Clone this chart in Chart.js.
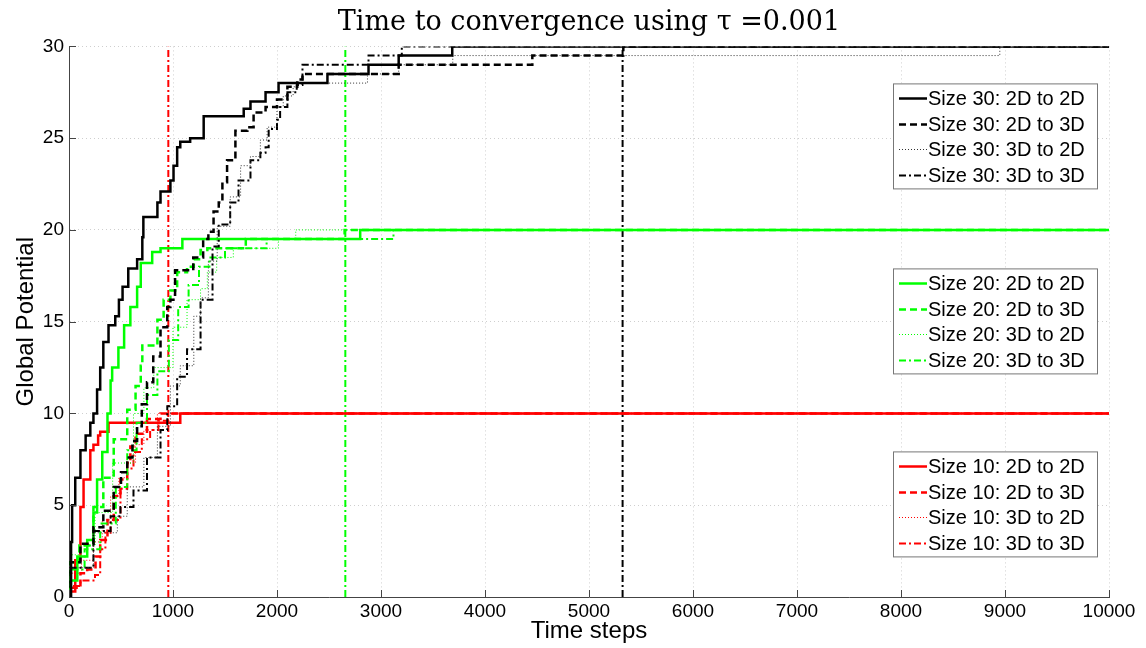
<!DOCTYPE html>
<html>
<head>
<meta charset="utf-8">
<script src="https://cdn.jsdelivr.net/npm/chart.js@4.4.1/dist/chart.umd.min.js"></script>
<style>
html,body{margin:0;padding:0;background:#fff;}
</style>
</head>
<body>
<canvas id="graph" width="1146" height="648"></canvas>
<script>
/******************************** data ********************************/
// each pair is [time step, global potential], value holds until the next step
const s30_2d2d = [[0,0],[20,3],[30,5],[60,6.5],[110,8],[160,8.8],[205,9.5],[235,10],[270,11.3],[300,12.5],[330,13.9],[380,14.8],[445,15.3],[480,16.2],[515,16.9],[570,17.9],[655,18.4],[705,19.6],[715,20.7],[850,21.5],[880,22.1],[975,22.7],[1005,23.5],[1040,24.5],[1070,24.8],[1165,25.0],[1295,26.2],[1680,26.6],[1745,27.0],[1890,27.5],[2015,28.0],[2485,28.5],[2880,29.0],[3170,29.5],[3685,30],[10000,30]];
const s30_2d3d = [[0,0],[15,1.9],[110,2.9],[235,3.8],[330,4.7],[430,6.0],[500,6.8],[560,7.6],[610,8.5],[655,9.3],[700,10.5],[750,11.7],[810,13.1],[880,14.7],[945,15.8],[975,16.2],[1020,17.8],[1195,18.5],[1290,19.5],[1340,19.9],[1390,21.0],[1440,21.5],[1475,22.6],[1520,23.8],[1600,25.4],[1715,25.6],[1775,26.4],[1890,26.7],[2000,27.1],[2100,27.8],[2195,28.2],[2245,28.5],[3170,29.0],[4455,29.5],[5330,30],[10000,30]];
const s30_3d2d = [[0,0],[15,1.6],[235,3.5],[465,4.4],[560,6.0],[720,7.6],[850,9.3],[975,11.5],[1070,12.6],[1200,15.3],[1265,16.3],[1340,18.3],[1425,20.2],[1550,21.8],[1650,23.5],[1745,24.0],[1840,24.9],[1905,25.6],[2000,26.7],[2060,27.3],[2155,27.8],[2200,28.0],[2870,28.5],[3170,29.0],[3690,29.5],[8950,30],[10000,30]];
const s30_3d3d = [[0,0],[15,1.6],[235,3.6],[400,4.4],[495,4.9],[620,5.8],[750,7.6],[880,9.1],[945,10.4],[1040,12.0],[1135,13.5],[1265,16.2],[1380,19.1],[1440,20.3],[1550,21.5],[1630,22.7],[1745,23.8],[1840,24.2],[1890,24.5],[1920,25.5],[2000,26.0],[2030,26.7],[2100,27.5],[2190,27.9],[2245,29.0],[2880,29.5],[3200,30],[10000,30]];

const s20_2d2d = [[0,0],[15,0.9],[80,2.2],[175,3.1],[235,4.6],[270,6.4],[320,7.9],[370,10.0],[400,11.8],[415,12.5],[475,13.6],[530,14.8],[590,15.8],[655,16.9],[690,18.2],[800,18.8],[880,19.0],[1090,19.5],[2800,20],[10000,20]];
const s20_2d3d = [[0,0],[15,1.9],[100,2.8],[235,4.9],[330,6.5],[430,8.6],[560,10.2],[640,11.5],[690,12.6],[705,13.7],[850,15.1],[910,16.2],[975,16.7],[1040,17.7],[1135,18.0],[1200,18.4],[1265,18.9],[1330,19.0],[1700,19.5],[2650,20],[10000,20]];
const s20_3d2d = [[0,0],[15,2.3],[120,2.8],[250,4.6],[420,7.3],[620,10.0],[720,11.4],[815,12.5],[1000,14.7],[1135,16.2],[1265,16.8],[1330,17.7],[1420,18.5],[1580,19.0],[2015,19.5],[2180,20],[10000,20]];
const s20_3d3d = [[0,0],[15,1.5],[150,2.6],[300,4.0],[450,6.0],[560,8.0],[650,9.5],[750,11.0],[850,12.3],[960,14.0],[1050,15.8],[1150,17.0],[1250,18.0],[1350,18.5],[1500,19.0],[1900,19.5],[3120,20],[10000,20]];

const s10_2d2d = [[0,0],[15,0.3],[60,2.0],[110,4.9],[140,6.4],[205,8.0],[235,8.3],[280,8.8],[300,9.0],[380,9.5],[1070,10],[10000,10]];
const s10_2d3d = [[0,0],[15,0.5],[110,1.3],[175,1.5],[255,2.2],[300,3.1],[370,4.2],[430,5.5],[495,6.4],[560,7.3],[590,8.2],[640,8.9],[750,9.7],[880,10],[10000,10]];
const s10_3d2d = [[0,0],[15,1.3],[120,2.0],[235,3.0],[320,4.2],[400,5.5],[480,6.5],[560,7.3],[640,8.3],[720,9.1],[850,10],[10000,10]];
const s10_3d3d = [[0,0],[15,0.6],[110,0.9],[250,1.2],[300,2.6],[350,3.5],[400,4.2],[495,5.9],[560,7.0],[620,7.9],[700,8.6],[780,9.1],[860,9.6],[950,10],[10000,10]];

// convergence markers (time step of the vertical dash-dot lines)
const markerSteps = [955, 2657, 5323];
const markerColors = ['#ff0000', '#00ff00', '#000000'];

const sizes = ['30', '20', '10'];
const sizeColors = ['#000000', '#00ff00', '#ff0000'];
const mappings = ['2D to 2D', '2D to 3D', '3D to 2D', '3D to 3D'];
const seriesBySize = [
    [s30_2d2d, s30_2d3d, s30_3d2d, s30_3d3d],
    [s20_2d2d, s20_2d3d, s20_3d2d, s20_3d3d],
    [s10_2d2d, s10_2d3d, s10_3d2d, s10_3d3d]
];

const xTicks = [0, 10000, 1000];
const yTicks = [0, 30, 5];

/******************************** line styles (matlab like) ********************************/
const styles = [
    {width: 2.5, dash: []},
    {width: 2.5, dash: [7, 4]},
    {width: 1, dash: [1, 2]},
    {width: 2, dash: [7, 3, 2, 3]}
];
const dottedBlack = '#333333';

const toXY = (pairs) => pairs.map(p => ({x: p[0], y: p[1]}));

let datasets = [];
seriesBySize.forEach((group, g) => {
    group.forEach((pairs, m) => {
        let color = sizeColors[g];
        if (m === 2 && g === 0) color = dottedBlack;
        datasets.push({
            label: 'Size ' + sizes[g] + ': ' + mappings[m],
            data: toXY(pairs),
            group: g,
            borderColor: color,
            borderWidth: styles[m].width,
            borderDash: styles[m].dash,
            stepped: true,
            pointRadius: 0,
            fill: false,
            order: g * 4 + m
        });
    });
});
markerSteps.forEach((step, i) => {
    datasets.push({
        label: '',
        data: [{x: step, y: yTicks[0]}, {x: step, y: yTicks[1]}],
        borderColor: markerColors[i],
        borderWidth: 2,
        borderDash: [7, 3, 2, 3],
        pointRadius: 0,
        fill: false,
        order: 20 + i
    });
});

/******************************** plugins ********************************/
// small inward tick marks like matlab axes
const innerTicks = {
    id: 'innerTicks',
    afterDraw(chart) {
        const ctx = chart.ctx;
        const xs = chart.scales.x, ys = chart.scales.y;
        const area = chart.chartArea;
        ctx.save();
        ctx.strokeStyle = '#444';
        ctx.lineWidth = 1;
        ctx.beginPath();
        xs.ticks.forEach(t => {
            const px = Math.round(xs.getPixelForValue(t.value)) + 0.5;
            ctx.moveTo(px, area.bottom);
            ctx.lineTo(px, area.bottom - 7);
        });
        ys.ticks.forEach(t => {
            const py = Math.round(ys.getPixelForValue(t.value)) + 0.5;
            ctx.moveTo(area.left, py);
            ctx.lineTo(area.left + 7, py);
        });
        ctx.stroke();
        ctx.restore();
    }
};

// one boxed legend per size group
const groupLegends = {
    id: 'groupLegends',
    afterDatasetsDraw(chart) {
        const ctx = chart.ctx;
        const area = chart.chartArea;
        const boxTops = [37, 222, 405];
        const boxW = 204, boxH = 105, rowH = 25.5;
        const left = area.right - 216;
        ctx.save();
        sizes.forEach((s, g) => {
            const top = area.top + boxTops[g];
            ctx.fillStyle = '#fff';
            ctx.fillRect(left, top, boxW, boxH);
            ctx.strokeStyle = '#777';
            ctx.lineWidth = 1;
            ctx.setLineDash([]);
            ctx.strokeRect(left + 0.5, top + 0.5, boxW, boxH);
            const items = chart.data.datasets.filter(d => d.group === g);
            items.forEach((d, i) => {
                const y = Math.round(top + 15 + i * rowH) + 0.5;
                ctx.strokeStyle = d.borderColor;
                ctx.lineWidth = d.borderWidth;
                ctx.setLineDash(d.borderDash);
                ctx.beginPath();
                ctx.moveTo(left + 6, y);
                ctx.lineTo(left + 34, y);
                ctx.stroke();
                ctx.setLineDash([]);
                ctx.fillStyle = '#000';
                ctx.font = '20px "Liberation Sans", Arial, sans-serif';
                ctx.textBaseline = 'middle';
                ctx.textAlign = 'left';
                ctx.fillText(d.label, left + 35, y + 1);
            });
        });
        ctx.restore();
    }
};

/******************************** chart ********************************/
const tickFont = {family: '"Liberation Sans", Arial, sans-serif', size: 19};
const axisTitleFont = {family: '"Liberation Sans", Arial, sans-serif', size: 24};

new Chart(document.getElementById('graph'), {
    type: 'line',
    data: {datasets: datasets},
    options: {
        responsive: false,
        animation: false,
        layout: {padding: {left: 0, right: 37, top: 0, bottom: 0}},
        plugins: {
            legend: {display: false},
            tooltip: {enabled: false},
            title: {
                display: true,
                fullSize: false,
                text: 'Time to convergence using \u03C4 =0.001',
                color: '#000',
                font: {family: '"DejaVu Serif", serif', size: 27, weight: 'normal'},
                padding: {top: 7, bottom: 7}
            }
        },
        scales: {
            x: {
                type: 'linear',
                min: xTicks[0],
                max: xTicks[1],
                afterFit: (scale) => { scale.height = 51; },
                ticks: {stepSize: xTicks[2], color: '#000', font: tickFont, padding: 3, maxRotation: 0,
                    callback: (v) => String(v)},
                grid: {color: '#cfcfcf', lineWidth: 1, drawTicks: false},
                border: {display: true, color: '#444', width: 1, dash: [1, 3]},
                title: {display: true, text: 'Time steps', color: '#000', font: axisTitleFont, padding: {top: 0, bottom: 2}}
            },
            y: {
                type: 'linear',
                min: yTicks[0],
                max: yTicks[1],
                afterFit: (scale) => { scale.width = 69; },
                ticks: {stepSize: yTicks[2], color: '#000', font: tickFont, padding: 5},
                grid: {color: '#cfcfcf', lineWidth: 1, drawTicks: false},
                border: {display: true, color: '#444', width: 1, dash: [1, 3]},
                title: {display: true, text: 'Global Potential', color: '#000', font: axisTitleFont, padding: {top: 12, bottom: 0}}
            }
        }
    },
    plugins: [innerTicks, groupLegends]
});
</script>
</body>
</html>
